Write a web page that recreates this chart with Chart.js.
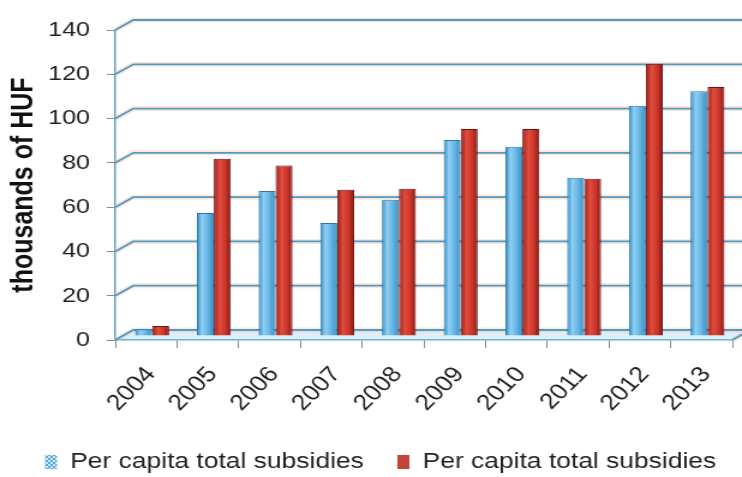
<!DOCTYPE html>
<html><head><meta charset="utf-8">
<script src="https://cdn.jsdelivr.net/npm/chart.js@4.4.1/dist/chart.umd.min.js"></script>
<style>
html,body{margin:0;padding:0;background:#fff;overflow:hidden}
#wrap{width:618px;height:477px;transform:scaleX(1.2006);transform-origin:0 0;}
</style></head><body>
<div id="wrap"><canvas id="c"></canvas></div>
<script>
// ---- data ----
const years = ['2004','2005','2006','2007','2008','2009','2010','2011','2012','2013'];
const seriesBlue = [3, 55.5, 65.5, 51, 61.5, 88.5, 85.5, 71.5, 104, 110.5];
const seriesRed  = [4.5, 80, 77, 66, 66.5, 93.5, 93.5, 71, 123, 112.5];
const seriesNames = ['Per capita total subsidies', 'Per capita total subsidies'];
const yTicks = [0, 20, 40, 60, 80, 100, 120, 140];
const yTitle = 'thousands of HUF';

// ---- style constants ----
const DEPTH_X = 15, DEPTH_Y = 10;     // 3D wall depth
const BAR_DX = 5, BAR_DY = 4;         // bars sit at mid depth
const CAT_PCT = 0.55;
const FONT = '"Liberation Sans", Arial, sans-serif';

function makePattern() {
  const c = document.createElement('canvas'); c.width = 4; c.height = 4;
  const g = c.getContext('2d');
  g.fillStyle = '#4fa6dc'; g.fillRect(0,0,4,4);
  g.fillStyle = 'rgba(255,255,255,0.75)';
  g.fillRect(0,0,2,2); g.fillRect(2,2,2,2);
  return g.createPattern(c, 'repeat');
}

function barFill(stops, fallback, side) {
  return (ctx) => {
    const chart = ctx.chart, xs = chart.scales && chart.scales.x;
    if (ctx.type !== 'data' || !xs || !chart.chartArea || !isFinite(xs.width)) return fallback;
    const cw = xs.width / years.length;
    const w = cw * CAT_PCT / 2;
    const cx = xs.getPixelForValue(ctx.dataIndex);
    const x0 = side === 0 ? cx - w : cx;
    const grad = chart.ctx.createLinearGradient(x0, 0, x0 + w, 0);
    stops.forEach(s => grad.addColorStop(s[0], s[1]));
    return grad;
  };
}

const wall3d = {
  id: 'wall3d',
  beforeDatasetsDraw(chart) {
    const {ctx, chartArea: a, scales: {x, y}} = chart;
    const L = a.left, R = chart.width;
    const y0 = y.getPixelForValue(0);
    ctx.save();
    ctx.fillStyle = 'rgba(160,205,230,0.35)';
    ctx.beginPath();
    ctx.moveTo(L, y0); ctx.lineTo(L + DEPTH_X, y0 - DEPTH_Y);
    ctx.lineTo(x.right + DEPTH_X, y0 - DEPTH_Y); ctx.lineTo(x.right, y0);
    ctx.closePath(); ctx.fill();
    const drawLines = (w, col) => {
      ctx.lineWidth = w; ctx.strokeStyle = col;
      yTicks.forEach(v => {
        const py = y.getPixelForValue(v);
        ctx.beginPath();
        ctx.moveTo(L, py); ctx.lineTo(L + DEPTH_X, py - DEPTH_Y); ctx.lineTo(R, py - DEPTH_Y);
        ctx.stroke();
      });
      ctx.beginPath();
      ctx.moveTo(x.right, y0); ctx.lineTo(x.right + DEPTH_X, y0 - DEPTH_Y);
      ctx.stroke();
    };
    drawLines(5, 'rgba(245,185,160,0.35)');
    drawLines(1.8, '#4c9cc4');
    ctx.restore();
    ctx.save();
    ctx.translate(BAR_DX, -BAR_DY);
  },
  afterDatasetsDraw(chart) { chart.ctx.restore(); }
};

const pattern = makePattern();

new Chart(document.getElementById('c'), {
  type: 'bar',
  data: {
    labels: years,
    datasets: [
      { label: seriesNames[0], data: seriesBlue,
        backgroundColor: barFill([[0,'#2f86bd'],[0.3,'#8fd0f4'],[0.6,'#6ab8e6'],[1,'#3a8fc4']], '#5aaee0', 0),
        borderColor: '#2c78a8', borderWidth: 1,
        categoryPercentage: CAT_PCT, barPercentage: 1 },
      { label: seriesNames[1], data: seriesRed,
        backgroundColor: barFill([[0,'#9c1f18'],[0.35,'#e24c3e'],[0.7,'#c8342a'],[1,'#861813']], '#c8382c', 1),
        borderColor: '#6e1510', borderWidth: 1,
        categoryPercentage: CAT_PCT, barPercentage: 1 }
    ]
  },
  options: {
    responsive: true, maintainAspectRatio: false, animation: false,
    layout: { padding: { left: 9, right: -7, top: 30, bottom: -6 } },
    scales: {
      x: {
        grid: { offset: true, drawOnChartArea: false, drawTicks: true, tickLength: 8, tickColor: '#8a8a8a', tickWidth: 1 },
        border: { display: true, color: '#5fa8cc', width: 1.5 },
        ticks: { font: { family: FONT, size: 22 }, color: '#231f20', minRotation: 49, maxRotation: 49, padding: 14, labelOffset: 4, autoSkip: false },
        afterFit: s => { s.height = 83; s.paddingLeft = 0; s.paddingRight = 0; }
      },
      y: {
        min: 0, max: 140,
        afterBuildTicks: s => { s.ticks = yTicks.map(v => ({ value: v })); },
        grid: { drawOnChartArea: false, drawTicks: true, tickLength: 7, tickColor: '#8a8a8a' },
        border: { display: true, color: '#5b9fc2', width: 1.5 },
        ticks: { font: { family: FONT, size: 21 }, color: '#231f20', padding: 14 },
        title: { display: true, text: yTitle, color: '#111', font: { family: FONT, size: 25, weight: 'bold' }, padding: { top: -4, bottom: 0 } },
        afterFit: s => { s.width = 87; s.paddingTop = 0; s.paddingBottom = 0; }
      },
      yR: {
        type: 'linear', position: 'right', display: true,
        grid: { display: false }, border: { display: false }, ticks: { display: false },
        afterFit: s => { s.width = 15; }
      }
    },
    plugins: {
      tooltip: { enabled: false },
      legend: {
        position: 'bottom',
        labels: {
          font: { family: FONT, size: 22 }, color: '#231f20',
          boxWidth: 10, boxHeight: 14, padding: 28,
          generateLabels: (chart) => {
            const items = Chart.defaults.plugins.legend.labels.generateLabels(chart);
            items[0].fillStyle = pattern; items[0].strokeStyle = pattern; items[0].lineWidth = 0;
            items[1].fillStyle = '#c5433a'; items[1].strokeStyle = '#c5433a'; items[1].lineWidth = 0;
            return items;
          }
        }
      }
    }
  },
  plugins: [wall3d]
});
</script>
</body></html>
